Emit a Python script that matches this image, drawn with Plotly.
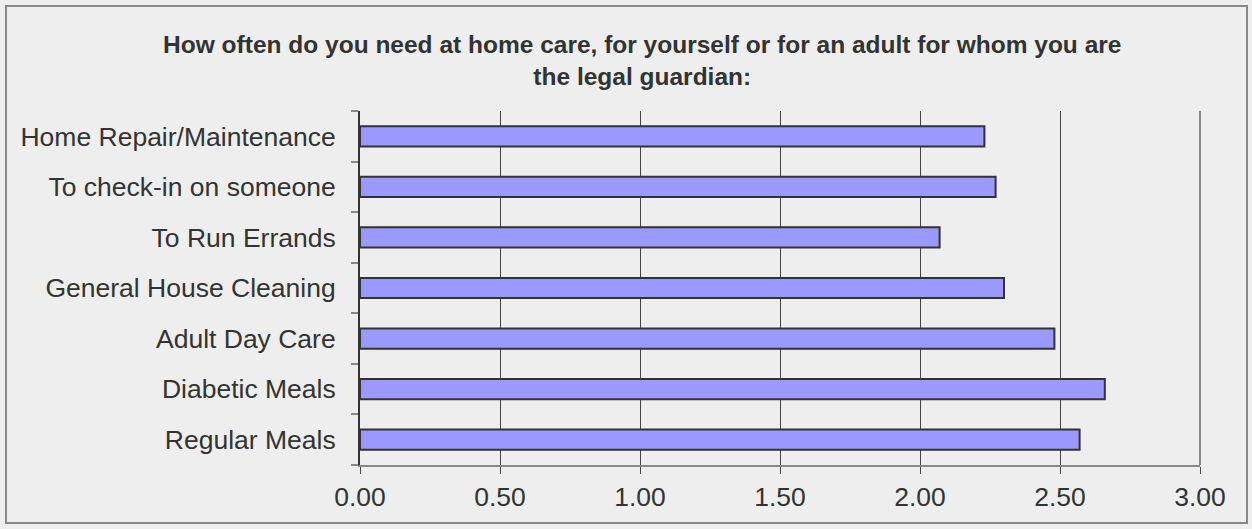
import plotly.graph_objects as go

categories = ["Regular Meals", "Diabetic Meals", "Adult Day Care", "General House Cleaning",
              "To Run Errands", "To check-in on someone", "Home Repair/Maintenance"]
values = [2.57, 2.66, 2.48, 2.30, 2.07, 2.27, 2.23]
tick_vals = [0, 0.5, 1.0, 1.5, 2.0, 2.5, 3.0]
tick_text = ["0.00", "0.50", "1.00", "1.50", "2.00", "2.50", "3.00"]
title_text = ("How often do you need at home care, for yourself or for an adult for whom you are"
              "<br>the legal guardian:")

W, H = 1252, 529
ML, MR, MT, MB = 360, 52, 111, 64
pw, ph = W - ML - MR, H - MT - MB

def px_to_paper_x(px):
    return (px - ML) / pw

def px_to_paper_y(py):
    return (H - MB - py) / ph

fig = go.Figure(go.Bar(
    y=categories, x=values, orientation="h", width=0.4,
    marker=dict(color="#9999ff", line=dict(color="#333333", width=2)),
    hoverinfo="x+y",
))

fig.update_layout(
    width=W, height=H, autosize=False,
    margin=dict(l=ML, r=MR, t=MT, b=MB, pad=0),
    paper_bgcolor="#eeeeee", plot_bgcolor="#eeeeee",
    font=dict(family="Liberation Sans, Arial, sans-serif", color="#333333", size=26),
    title=dict(text=title_text, x=0.513, xanchor="center", y=1 - 53 / H, yanchor="top",
               font=dict(family="Liberation Sans, Arial, sans-serif", size=24.5, color="#333333", weight="bold")),
    showlegend=False,
    xaxis=dict(range=[0, 3.0], tickvals=tick_vals, ticktext=tick_text,
               showgrid=True, gridcolor="#444444", gridwidth=1,
               showline=True, linecolor="#888888", linewidth=2,
               ticks="outside", ticklen=7, tickcolor="#444444", tickwidth=1,
               tickfont=dict(size=26.5, color="#333333"), zeroline=False, fixedrange=True),
    yaxis=dict(type="category", categoryorder="array", categoryarray=categories,
               tickson="boundaries", ticks="outside", ticklen=7, tickcolor="#888888", tickwidth=2,
               ticklabelstandoff=17,
               showline=True, linecolor="#333333", linewidth=2, showgrid=False,
               tickfont=dict(size=26.5, color="#333333"), fixedrange=True),
    shapes=[
        dict(type="rect", xref="paper", yref="paper",
             x0=px_to_paper_x(6), x1=px_to_paper_x(1247),
             y0=px_to_paper_y(523), y1=px_to_paper_y(6),
             line=dict(color="#888888", width=2), fillcolor="rgba(0,0,0,0)", layer="below"),
        dict(type="line", xref="paper", yref="paper", x0=1, x1=1, y0=0, y1=1,
             line=dict(color="#888888", width=2)),
    ],
)

fig.write_html("out.html", config={"displayModeBar": False},
               post_script="document.body.style.margin='0';")
